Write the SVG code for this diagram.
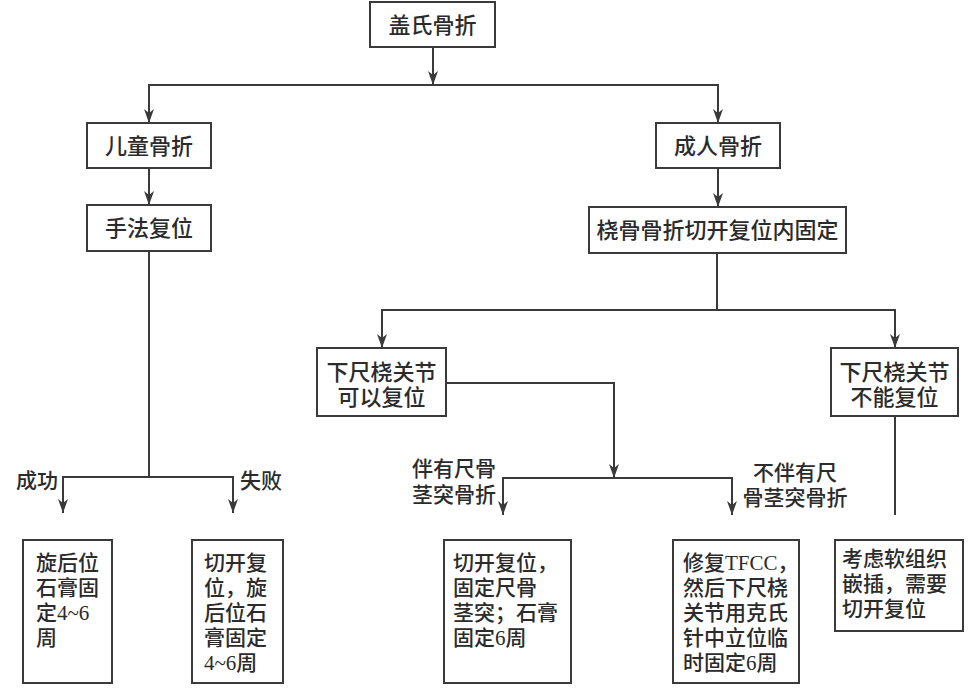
<svg xmlns="http://www.w3.org/2000/svg" width="978" height="696" viewBox="0 0 978 696">
<style>
.box{fill:#fff;stroke:#3a3a3a;stroke-width:2}
.ln{fill:none;stroke:#3a3a3a;stroke-width:2}
.t{font-family:"Liberation Serif","Noto Sans CJK SC",serif;fill:#2b2b2b;font-size:22px;font-weight:500}
.m{text-anchor:middle}
.s{font-size:21px}
</style>
<defs>
<marker id="ah" markerUnits="userSpaceOnUse" markerWidth="14" markerHeight="10" refX="14" refY="5" orient="auto">
<path d="M0,0 L14,5 L0,10 L4,5 Z" fill="#3a3a3a"/>
</marker>
</defs>
<rect width="978" height="696" fill="#fff"/>
<g id="connectors">
<path class="ln" d="M433,47 V85" marker-end="url(#ah)"/>
<path class="ln" d="M433,85 H149 V123" marker-end="url(#ah)"/>
<path class="ln" d="M433,85 H718 V123" marker-end="url(#ah)"/>
<path class="ln" d="M149,168 V205" marker-end="url(#ah)"/>
<path class="ln" d="M718,168 V207" marker-end="url(#ah)"/>
<path class="ln" d="M149,251 V477"/>
<path class="ln" d="M149,477 H63 V513" marker-end="url(#ah)"/>
<path class="ln" d="M149,477 H233 V513" marker-end="url(#ah)"/>
<path class="ln" d="M717,253 V310"/>
<path class="ln" d="M717,310 H382 V348" marker-end="url(#ah)"/>
<path class="ln" d="M717,310 H895 V348" marker-end="url(#ah)"/>
<path class="ln" d="M446,383 H614 V478" marker-end="url(#ah)"/>
<path class="ln" d="M614,478 H503 V515" marker-end="url(#ah)"/>
<path class="ln" d="M614,478 H732 V515" marker-end="url(#ah)"/>
<path class="ln" d="M895,416 V515"/>
<text class="t s" x="16" y="488">成功</text>
<text class="t s" x="240" y="488">失败</text>
<text class="t s" x="412" y="476">伴有尺骨</text>
<text class="t s" x="412" y="502">茎突骨折</text>
<text class="t s m" x="795" y="480">不伴有尺</text>
<text class="t s m" x="795" y="505">骨茎突骨折</text>
</g>
<g id="n1"><rect class="box" x="370" y="2" width="125" height="45"/><text class="t m" x="432.5" y="33">盖氏骨折</text></g>
<g id="n2"><rect class="box" x="87" y="123" width="124" height="45"/><text class="t m" x="149" y="154">儿童骨折</text></g>
<g id="n3"><rect class="box" x="87" y="205" width="124" height="46"/><text class="t m" x="149" y="236">手法复位</text></g>
<g id="n4"><rect class="box" x="656" y="123" width="124" height="45"/><text class="t m" x="718" y="154">成人骨折</text></g>
<g id="n5"><rect class="box" x="589" y="207" width="257" height="46"/><text class="t m" x="717.5" y="238">桡骨骨折切开复位内固定</text></g>
<g id="n6"><rect class="box" x="317" y="348" width="129" height="68"/><text class="t m" x="381.5" y="380">下尺桡关节</text><text class="t m" x="381.5" y="405">可以复位</text></g>
<g id="n7"><rect class="box" x="831" y="348" width="127" height="68"/><text class="t m" x="894.5" y="380">下尺桡关节</text><text class="t m" x="894.5" y="405">不能复位</text></g>
<g id="n8"><rect class="box" x="23" y="540" width="89" height="143"/>
<text class="t s" x="36" y="570">旋后位</text><text class="t s" x="36" y="595">石膏固</text><text class="t s" x="36" y="620">定4~6</text><text class="t s" x="36" y="645">周</text></g>
<g id="n9"><rect class="box" x="192" y="540" width="91" height="143"/>
<text class="t s" x="204" y="570">切开复</text><text class="t s" x="204" y="595">位，旋</text><text class="t s" x="204" y="620">后位石</text><text class="t s" x="204" y="645">膏固定</text><text class="t s" x="204" y="670">4~6周</text></g>
<g id="n10"><rect class="box" x="444" y="540" width="127" height="143"/>
<text class="t s" x="453" y="570">切开复位，</text><text class="t s" x="453" y="595">固定尺骨</text><text class="t s" x="453" y="620">茎突；石膏</text><text class="t s" x="453" y="645">固定6周</text></g>
<g id="n11"><rect class="box" x="673" y="540" width="126" height="143"/>
<text class="t s" x="683" y="570">修复TFCC，</text><text class="t s" x="683" y="595">然后下尺桡</text><text class="t s" x="683" y="620">关节用克氏</text><text class="t s" x="683" y="645">针中立位临</text><text class="t s" x="683" y="670">时固定6周</text></g>
<g id="n12"><rect class="box" x="835" y="540" width="128" height="91"/>
<text class="t s" x="842" y="566">考虑软组织</text><text class="t s" x="842" y="591">嵌插，需要</text><text class="t s" x="842" y="616">切开复位</text></g>
</svg>
